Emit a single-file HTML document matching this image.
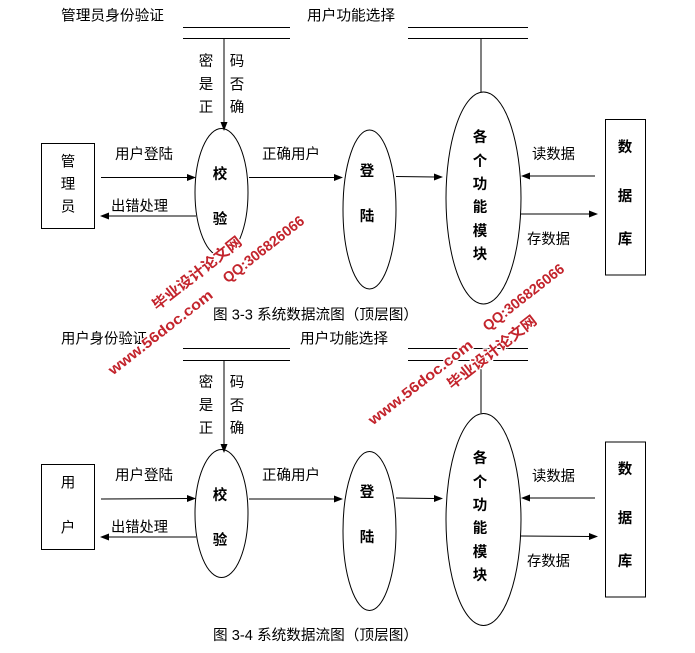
<!DOCTYPE html>
<html><head><meta charset="utf-8">
<style>
html,body{margin:0;padding:0;background:#fff;}
svg{display:block;}
text{font-family:"Liberation Sans","Noto Sans CJK SC",sans-serif;font-size:14.5px;fill:#000;dominant-baseline:central;}
.b{font-weight:bold;}
.m{text-anchor:middle;}
.wm{font-family:"Liberation Sans","Noto Sans CJK SC",sans-serif;font-weight:bold;fill:#c3242c;stroke:#fff;stroke-width:2.5px;paint-order:stroke;text-anchor:middle;dominant-baseline:central;}
.s line,.s ellipse,.s rect{stroke:#000;stroke-width:1;fill:none;}
.s polygon{fill:#000;stroke:none;}
</style></head><body>
<svg width="695" height="653" viewBox="0 0 695 653" xmlns="http://www.w3.org/2000/svg">
<!-- TOP DIAGRAM -->
<g class="s">
<line x1="183" y1="27.5" x2="290" y2="27.5"/>
<line x1="183" y1="38.5" x2="290" y2="38.5"/>
<line x1="408" y1="27.5" x2="528" y2="27.5"/>
<line x1="408" y1="38.5" x2="528" y2="38.5"/>
<line x1="224" y1="38.5" x2="224" y2="123"/>
<polygon points="224,131 220.5,122 227.5,122"/>
<line x1="481" y1="38.5" x2="481" y2="92"/>
<ellipse cx="221.5" cy="192.5" rx="26.5" ry="64"/>
<rect x="41.5" y="143.5" width="53" height="85"/>
<line x1="101" y1="177.5" x2="188" y2="177.5"/>
<polygon points="196,177.5 187,174 187,181"/>
<line x1="108" y1="216" x2="196" y2="216"/>
<polygon points="100,216 109,212.5 109,219.5"/>
<line x1="249" y1="177.5" x2="335" y2="177.5"/>
<polygon points="343,177.5 334,174 334,181"/>
<ellipse cx="369.5" cy="209.5" rx="26.5" ry="79.5"/>
<line x1="396" y1="176.5" x2="435" y2="177"/>
<polygon points="443,177 434,173.5 434,180.5"/>
<ellipse cx="483.5" cy="198" rx="37.5" ry="106"/>
<rect x="605.5" y="119.5" width="40" height="155.5"/>
<line x1="529" y1="176" x2="595" y2="176"/>
<polygon points="521,176 530,172.5 530,179.5"/>
<line x1="521" y1="214" x2="590" y2="214"/>
<polygon points="598,214 589,210.5 589,217.5"/>
</g>
<text x="61" y="16.5" textLength="103" lengthAdjust="spacingAndGlyphs">管理员身份验证</text>
<text x="307" y="16.5" textLength="88" lengthAdjust="spacingAndGlyphs">用户功能选择</text>
<text class="m" x="206" y="62">密</text>
<text class="m" x="206" y="85">是</text>
<text class="m" x="206" y="108">正</text>
<text class="m" x="237" y="62">码</text>
<text class="m" x="237" y="85.5">否</text>
<text class="m" x="237" y="108">确</text>
<text class="m b" x="220" y="175">校</text>
<text class="m b" x="220" y="220">验</text>
<text class="m" x="68" y="162.5">管</text>
<text class="m" x="68" y="185">理</text>
<text class="m" x="68" y="207.5">员</text>
<text x="115" y="155" textLength="58" lengthAdjust="spacingAndGlyphs">用户登陆</text>
<text x="111" y="207" textLength="57" lengthAdjust="spacingAndGlyphs">出错处理</text>
<text x="262" y="155" textLength="58" lengthAdjust="spacingAndGlyphs">正确用户</text>
<text class="m b" x="367" y="172">登</text>
<text class="m b" x="367" y="217">陆</text>
<text class="m b" x="480" y="138">各</text>
<text class="m b" x="480" y="162">个</text>
<text class="m b" x="480" y="185">功</text>
<text class="m b" x="480" y="208">能</text>
<text class="m b" x="480" y="232">模</text>
<text class="m b" x="480" y="255">块</text>
<text class="m b" x="625" y="148">数</text>
<text class="m b" x="625" y="197">据</text>
<text class="m b" x="625" y="240">库</text>
<text x="532" y="155" textLength="43" lengthAdjust="spacingAndGlyphs">读数据</text>
<text x="527" y="240" textLength="43" lengthAdjust="spacingAndGlyphs">存数据</text>
<text x="213" y="315.5" textLength="205" lengthAdjust="spacingAndGlyphs">图 3-3 系统数据流图（顶层图）</text>

<!-- BOTTOM DIAGRAM -->
<g transform="translate(0,321)">
<g class="s">
<line x1="183" y1="27.5" x2="290" y2="27.5"/>
<line x1="183" y1="39.5" x2="290" y2="39.5"/>
<line x1="408" y1="27.5" x2="528" y2="27.5"/>
<line x1="408" y1="39.5" x2="528" y2="39.5"/>
<line x1="224" y1="39.5" x2="224" y2="124"/>
<polygon points="224,132 220.5,123 227.5,123"/>
<line x1="481" y1="39.5" x2="481" y2="92"/>
<ellipse cx="221.5" cy="192.5" rx="26.5" ry="64"/>
<rect x="41.5" y="143.5" width="53" height="85"/>
<line x1="101" y1="178" x2="188" y2="177.5"/>
<polygon points="196,177.5 187,174 187,181"/>
<line x1="108" y1="216" x2="196" y2="216"/>
<polygon points="100,216 109,212.5 109,219.5"/>
<line x1="249" y1="178" x2="335" y2="178"/>
<polygon points="343,178 334,174.5 334,181.5"/>
<ellipse cx="369.5" cy="210" rx="26.5" ry="79.5"/>
<line x1="396" y1="177" x2="435" y2="177.5"/>
<polygon points="443,177.5 434,174 434,181"/>
<ellipse cx="483.5" cy="198.5" rx="37.5" ry="106"/>
<rect x="605.5" y="121" width="40" height="155"/>
<line x1="529" y1="177" x2="595" y2="177"/>
<polygon points="521,177 530,173.5 530,180.5"/>
<line x1="521" y1="215" x2="590" y2="215.5"/>
<polygon points="598,215.5 589,212 589,219"/>
</g>
<text x="61" y="18.5" textLength="86" lengthAdjust="spacingAndGlyphs">用户身份验证</text>
<text x="300" y="18.5" textLength="88" lengthAdjust="spacingAndGlyphs">用户功能选择</text>
<text class="m" x="206" y="62">密</text>
<text class="m" x="206" y="85">是</text>
<text class="m" x="206" y="108">正</text>
<text class="m" x="237" y="62">码</text>
<text class="m" x="237" y="85.5">否</text>
<text class="m" x="237" y="108">确</text>
<text class="m b" x="220" y="175">校</text>
<text class="m b" x="220" y="220">验</text>
<text class="m" x="68" y="162.5">用</text>
<text class="m" x="68" y="207.5">户</text>
<text x="115" y="155" textLength="58" lengthAdjust="spacingAndGlyphs">用户登陆</text>
<text x="111" y="207" textLength="57" lengthAdjust="spacingAndGlyphs">出错处理</text>
<text x="262" y="155" textLength="58" lengthAdjust="spacingAndGlyphs">正确用户</text>
<text class="m b" x="367" y="172">登</text>
<text class="m b" x="367" y="217">陆</text>
<text class="m b" x="480" y="138">各</text>
<text class="m b" x="480" y="162">个</text>
<text class="m b" x="480" y="185">功</text>
<text class="m b" x="480" y="208">能</text>
<text class="m b" x="480" y="232">模</text>
<text class="m b" x="480" y="255">块</text>
<text class="m b" x="625" y="149">数</text>
<text class="m b" x="625" y="198">据</text>
<text class="m b" x="625" y="241">库</text>
<text x="532" y="156" textLength="43" lengthAdjust="spacingAndGlyphs">读数据</text>
<text x="527" y="241" textLength="43" lengthAdjust="spacingAndGlyphs">存数据</text>
<text x="213" y="315" textLength="205" lengthAdjust="spacingAndGlyphs">图 3-4 系统数据流图（顶层图）</text>
</g>

<!-- WATERMARKS -->
<text class="wm" transform="translate(197.5,274) rotate(-38)" font-size="16" textLength="109" lengthAdjust="spacingAndGlyphs">毕业设计论文网</text>
<text class="wm" transform="translate(264,250) rotate(-38)" font-size="13.5" textLength="99" lengthAdjust="spacingAndGlyphs">QQ:306826066</text>
<text class="wm" transform="translate(161,333) rotate(-38)" font-size="15" textLength="128" lengthAdjust="spacingAndGlyphs">www.56doc.com</text>

<text class="wm" transform="translate(524,298) rotate(-38)" font-size="13.5" textLength="99" lengthAdjust="spacingAndGlyphs">QQ:306826066</text>
<text class="wm" transform="translate(492.5,353) rotate(-38)" font-size="16" textLength="109" lengthAdjust="spacingAndGlyphs">毕业设计论文网</text>
<text class="wm" transform="translate(421,383) rotate(-38)" font-size="15" textLength="128" lengthAdjust="spacingAndGlyphs">www.56doc.com</text>
</svg>
</body></html>
